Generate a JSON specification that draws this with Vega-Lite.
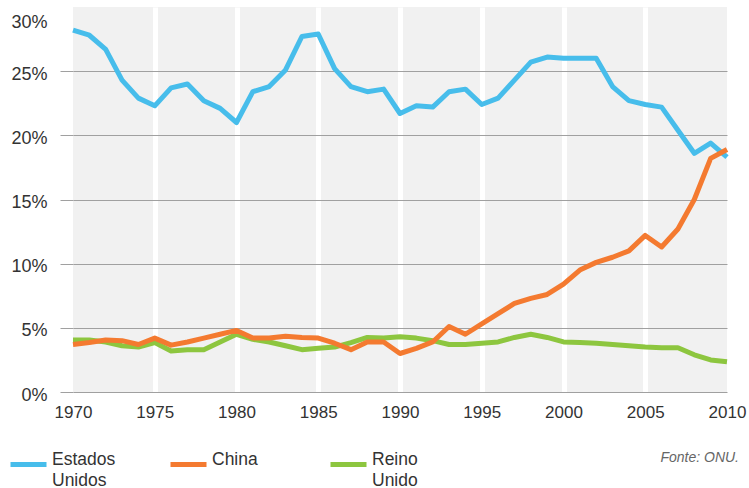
{
  "$schema": "https://vega.github.io/schema/vega-lite/v6.json",
  "width": 654,
  "height": 385,
  "padding": {"left": 8, "top": 7, "right": 5, "bottom": 5},
  "background": "white",
  "config": {
    "view": {"stroke": null, "fill": "#f1f1f1"},
    "font": "Liberation Sans",
    "style": {"guide-label": {"lineHeight": 21}}
  },
  "title": {
    "text": "Fonte: ONU.",
    "orient": "bottom",
    "anchor": "end",
    "frame": "group",
    "dx": 12,
    "offset": -38,
    "fontSize": 14,
    "fontStyle": "italic",
    "fontWeight": "normal",
    "color": "#666666",
    "font": "Liberation Sans"
  },
  "data": {
    "values": [
      {"ano": 1970, "Estados Unidos": 28.2, "China": 3.7, "Reino Unido": 4.05},
      {"ano": 1971, "Estados Unidos": 27.8, "China": 3.85, "Reino Unido": 4.05},
      {"ano": 1972, "Estados Unidos": 26.7, "China": 4.05, "Reino Unido": 3.9},
      {"ano": 1973, "Estados Unidos": 24.3, "China": 4.0, "Reino Unido": 3.6},
      {"ano": 1974, "Estados Unidos": 22.9, "China": 3.7, "Reino Unido": 3.5},
      {"ano": 1975, "Estados Unidos": 22.3, "China": 4.2, "Reino Unido": 3.85},
      {"ano": 1976, "Estados Unidos": 23.7, "China": 3.65, "Reino Unido": 3.2},
      {"ano": 1977, "Estados Unidos": 24.0, "China": 3.9, "Reino Unido": 3.3},
      {"ano": 1978, "Estados Unidos": 22.7, "China": 4.2, "Reino Unido": 3.3},
      {"ano": 1979, "Estados Unidos": 22.1, "China": 4.5, "Reino Unido": 3.9},
      {"ano": 1980, "Estados Unidos": 21.0, "China": 4.8, "Reino Unido": 4.5},
      {"ano": 1981, "Estados Unidos": 23.4, "China": 4.2, "Reino Unido": 4.1},
      {"ano": 1982, "Estados Unidos": 23.8, "China": 4.2, "Reino Unido": 3.9},
      {"ano": 1983, "Estados Unidos": 25.1, "China": 4.35, "Reino Unido": 3.6},
      {"ano": 1984, "Estados Unidos": 27.7, "China": 4.25, "Reino Unido": 3.3},
      {"ano": 1985, "Estados Unidos": 27.9, "China": 4.2, "Reino Unido": 3.4},
      {"ano": 1986, "Estados Unidos": 25.2, "China": 3.8, "Reino Unido": 3.5},
      {"ano": 1987, "Estados Unidos": 23.8, "China": 3.3, "Reino Unido": 3.85},
      {"ano": 1988, "Estados Unidos": 23.4, "China": 3.9, "Reino Unido": 4.25},
      {"ano": 1989, "Estados Unidos": 23.6, "China": 3.9, "Reino Unido": 4.2},
      {"ano": 1990, "Estados Unidos": 21.7, "China": 3.0, "Reino Unido": 4.3},
      {"ano": 1991, "Estados Unidos": 22.3, "China": 3.4, "Reino Unido": 4.2},
      {"ano": 1992, "Estados Unidos": 22.2, "China": 3.9, "Reino Unido": 4.0},
      {"ano": 1993, "Estados Unidos": 23.4, "China": 5.1, "Reino Unido": 3.7},
      {"ano": 1994, "Estados Unidos": 23.6, "China": 4.5, "Reino Unido": 3.7},
      {"ano": 1995, "Estados Unidos": 22.4, "China": 5.3, "Reino Unido": 3.8},
      {"ano": 1996, "Estados Unidos": 22.9, "China": 6.1, "Reino Unido": 3.9},
      {"ano": 1997, "Estados Unidos": 24.3, "China": 6.9, "Reino Unido": 4.25},
      {"ano": 1998, "Estados Unidos": 25.7, "China": 7.3, "Reino Unido": 4.5},
      {"ano": 1999, "Estados Unidos": 26.1, "China": 7.6, "Reino Unido": 4.25},
      {"ano": 2000, "Estados Unidos": 26.0, "China": 8.4, "Reino Unido": 3.9},
      {"ano": 2001, "Estados Unidos": 26.0, "China": 9.5, "Reino Unido": 3.85},
      {"ano": 2002, "Estados Unidos": 26.0, "China": 10.1, "Reino Unido": 3.8},
      {"ano": 2003, "Estados Unidos": 23.8, "China": 10.5, "Reino Unido": 3.7},
      {"ano": 2004, "Estados Unidos": 22.7, "China": 11.0, "Reino Unido": 3.6},
      {"ano": 2005, "Estados Unidos": 22.4, "China": 12.2, "Reino Unido": 3.5},
      {"ano": 2006, "Estados Unidos": 22.2, "China": 11.3, "Reino Unido": 3.45},
      {"ano": 2007, "Estados Unidos": 20.4, "China": 12.7, "Reino Unido": 3.45},
      {"ano": 2008, "Estados Unidos": 18.6, "China": 15.0, "Reino Unido": 2.9},
      {"ano": 2009, "Estados Unidos": 19.4, "China": 18.2, "Reino Unido": 2.5},
      {"ano": 2010, "Estados Unidos": 18.3, "China": 18.9, "Reino Unido": 2.35}
    ]
  },
  "transform": [
    {"fold": ["Estados Unidos", "Reino Unido", "China"], "as": ["pais", "valor"]}
  ],
  "mark": {"type": "line", "strokeWidth": 5, "strokeJoin": "round", "strokeCap": "butt"},
  "encoding": {
    "x": {
      "field": "ano",
      "type": "quantitative",
      "scale": {"domain": [1970, 2010], "nice": false, "zero": false},
      "axis": {
        "title": null,
        "values": [1970, 1975, 1980, 1985, 1990, 1995, 2000, 2005, 2010],
        "format": "d",
        "domain": false,
        "ticks": false,
        "tickSize": 0,
        "labelPadding": 12,
        "labelFlush": false,
        "labelFontSize": 17,
        "labelColor": "#333333",
        "labelFont": "Liberation Sans",
        "grid": true,
        "gridColor": "white",
        "gridWidth": 5,
        "gridOpacity": {"condition": {"test": "datum.value == 1970 || datum.value == 2010", "value": 0}, "value": 1}
      }
    },
    "y": {
      "field": "valor",
      "type": "quantitative",
      "scale": {"domain": [0, 30], "nice": false},
      "axis": {
        "title": null,
        "values": [0, 5, 10, 15, 20, 25, 30],
        "labelExpr": "datum.value + '%'",
        "domain": false,
        "ticks": true,
        "tickSize": 13,
        "tickColor": "#a0a0a0",
        "tickOpacity": {"condition": {"test": "datum.value == 30", "value": 0}, "value": 1},
        "labelPadding": 13,
        "labelFontSize": 18,
        "labelColor": "#333333",
        "labelFont": "Liberation Sans",
        "labelOffset": {"condition": {"test": "datum.value == 30", "value": 15}, "value": 3},
        "grid": true,
        "gridColor": "#a0a0a0",
        "gridWidth": 1,
        "gridOpacity": {"condition": {"test": "datum.value == 30", "value": 0}, "value": 1}
      }
    },
    "color": {
      "field": "pais",
      "type": "nominal",
      "scale": {
        "domain": ["Estados Unidos", "China", "Reino Unido"],
        "range": ["#47bdeb", "#f47a30", "#8dc63f"]
      },
      "legend": {
        "title": null,
        "orient": "none",
        "legendX": -65,
        "legendY": 437,
        "direction": "horizontal",
        "columns": 3,
        "gridAlign": "all",
        "columnPadding": 44,
        "symbolType": "stroke",
        "symbolSize": 1296,
        "symbolStrokeWidth": 5,
        "labelFontSize": 17.5,
        "labelFont": "Liberation Sans",
        "labelColor": "#333333",
        "labelOffset": 3,
        "labelBaseline": "alphabetic",
        "labelExpr": "datum.label == 'Estados Unidos' ? ['Estados', 'Unidos'] : datum.label == 'Reino Unido' ? ['Reino', 'Unido'] : [datum.label, '']"
      }
    },
    "order": {"field": "pais", "type": "nominal"}
  }
}
